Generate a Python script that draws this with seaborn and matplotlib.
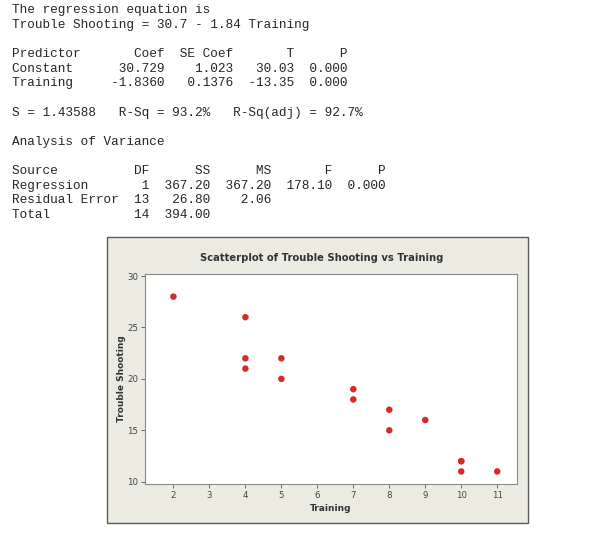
import matplotlib
matplotlib.use("Agg")
import matplotlib.pyplot as plt
from matplotlib.patches import Rectangle
import seaborn as sns
import pandas as pd

training = [2, 4, 4, 4, 5, 5, 7, 7, 8, 8, 9, 10, 10, 10, 11]
trouble_shooting = [28, 26, 22, 21, 22, 20, 19, 18, 17, 15, 16, 12, 12, 11, 11]
x_ticks = [2, 3, 4, 5, 6, 7, 8, 9, 10, 11]
y_ticks = [10, 15, 20, 25, 30]

# minitab session output, (row, text)
output_lines = [
    (0, "The regression equation is"),
    (1, "Trouble Shooting = 30.7 - 1.84 Training"),
    (3, "Predictor       Coef  SE Coef       T      P"),
    (4, "Constant      30.729    1.023   30.03  0.000"),
    (5, "Training     -1.8360   0.1376  -13.35  0.000"),
    (7, "S = 1.43588   R-Sq = 93.2%   R-Sq(adj) = 92.7%"),
    (9, "Analysis of Variance"),
    (11, "Source          DF      SS      MS       F      P"),
    (12, "Regression       1  367.20  367.20  178.10  0.000"),
    (13, "Residual Error  13   26.80    2.06"),
    (14, "Total           14  394.00"),
]

W, H = 600, 537
fig = plt.figure(figsize=(W / 100, H / 100), dpi=100)
fig.patch.set_facecolor("white")

def fx(px):
    return px / W

def fy(py):
    return 1 - py / H

for row, line in output_lines:
    fig.text(fx(12), fy(10 + row * 14.65), line, family="Liberation Mono",
             fontsize=9.2, color="#262626", va="center", ha="left")

# beige minitab graph window, kept behind the axes
panel = Rectangle((fx(107), fy(523)), fx(528) - fx(107), fy(237) - fy(523),
                  transform=fig.transFigure, facecolor="#ecebe2",
                  edgecolor="#5a5a5a", linewidth=1.0, zorder=-10)
fig.add_artist(panel)

ax = fig.add_axes([fx(145), fy(484), fx(517) - fx(145), fy(274) - fy(484)])
ax.set_zorder(1)
ax.set_facecolor("white")

df = pd.DataFrame({"Training": training, "Trouble Shooting": trouble_shooting})
sns.scatterplot(data=df, x="Training", y="Trouble Shooting", ax=ax,
                color="#d42b2b", s=22, edgecolor="none", zorder=3)

ax.set_xlim(1.21, 11.55)
ax.set_ylim(9.78, 30.2)
ax.set_xticks(x_ticks)
ax.set_yticks(y_ticks)
ax.tick_params(direction="out", length=3, width=0.7, color="#666666",
               labelsize=6.2, labelcolor="#444444", pad=2)
for sp in ax.spines.values():
    sp.set_color("#8a8a8a")
    sp.set_linewidth(0.8)

ax.set_xlabel("Training", fontsize=6.5, fontweight="bold", color="#333333", labelpad=3)
ax.set_ylabel("Trouble Shooting", fontsize=6.5, fontweight="bold", color="#333333", labelpad=1)

fig.text(fx(322), fy(258), "Scatterplot of Trouble Shooting vs Training",
         fontsize=7.2, fontweight="bold", color="#333333", ha="center", va="center",
         zorder=5)

fig.savefig("out.png", dpi=100)
